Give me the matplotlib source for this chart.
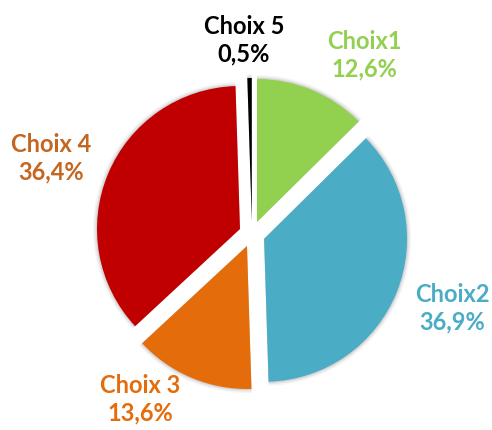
import matplotlib.pyplot as plt

# data
labels = ['Choix1', 'Choix2', 'Choix 3', 'Choix 4', 'Choix 5']
values = [12.6, 36.9, 13.6, 36.4, 0.5]
pct_text = ['12,6%', '36,9%', '13,6%', '36,4%', '0,5%']

colors = ['#92D050', '#4BACC6', '#E46C0A', '#C00000', '#000000']
label_colors = ['#92D050', '#4BACC6', '#E46C0A', '#C4661F', '#000000']
# label positions (pixels, from top-left)
label_pos = [(364, 55), (452, 308), (140, 399), (51, 158), (244, 40)]

W, H = 492, 430
cx, cy, r = 252, 196, 143
off = 13  # explode distance in px (pie explode is in data units here)

plt.rcParams['font.family'] = ['Lato', 'DejaVu Sans']

fig = plt.figure(figsize=(W / 100, H / 100), dpi=100)
ax = fig.add_axes([0, 0, 1, 1])

# soft shadow underneath
for grow, a in [(4, 0.08), (2.5, 0.12), (1.2, 0.18)]:
    ax.pie(values, radius=r + grow, center=(cx, cy), startangle=90, counterclock=False,
           explode=[off] * len(values), colors=['#808080'] * len(values),
           wedgeprops=dict(alpha=a, linewidth=0), frame=True)

ax.pie(values, radius=r, center=(cx, cy), startangle=90, counterclock=False,
       explode=[off] * len(values), colors=colors,
       wedgeprops=dict(linewidth=0), frame=True)

ax.set_xlim(0, W)
ax.set_ylim(0, H)
ax.set_aspect('equal')
ax.axis('off')

for lab, p, (x, y), c in zip(labels, pct_text, label_pos, label_colors):
    ax.text(x, H - y, lab + '\n' + p, ha='center', va='center', color=c,
            fontsize=17, fontweight='bold', linespacing=1.25)

fig.savefig('out.png', dpi=100)
